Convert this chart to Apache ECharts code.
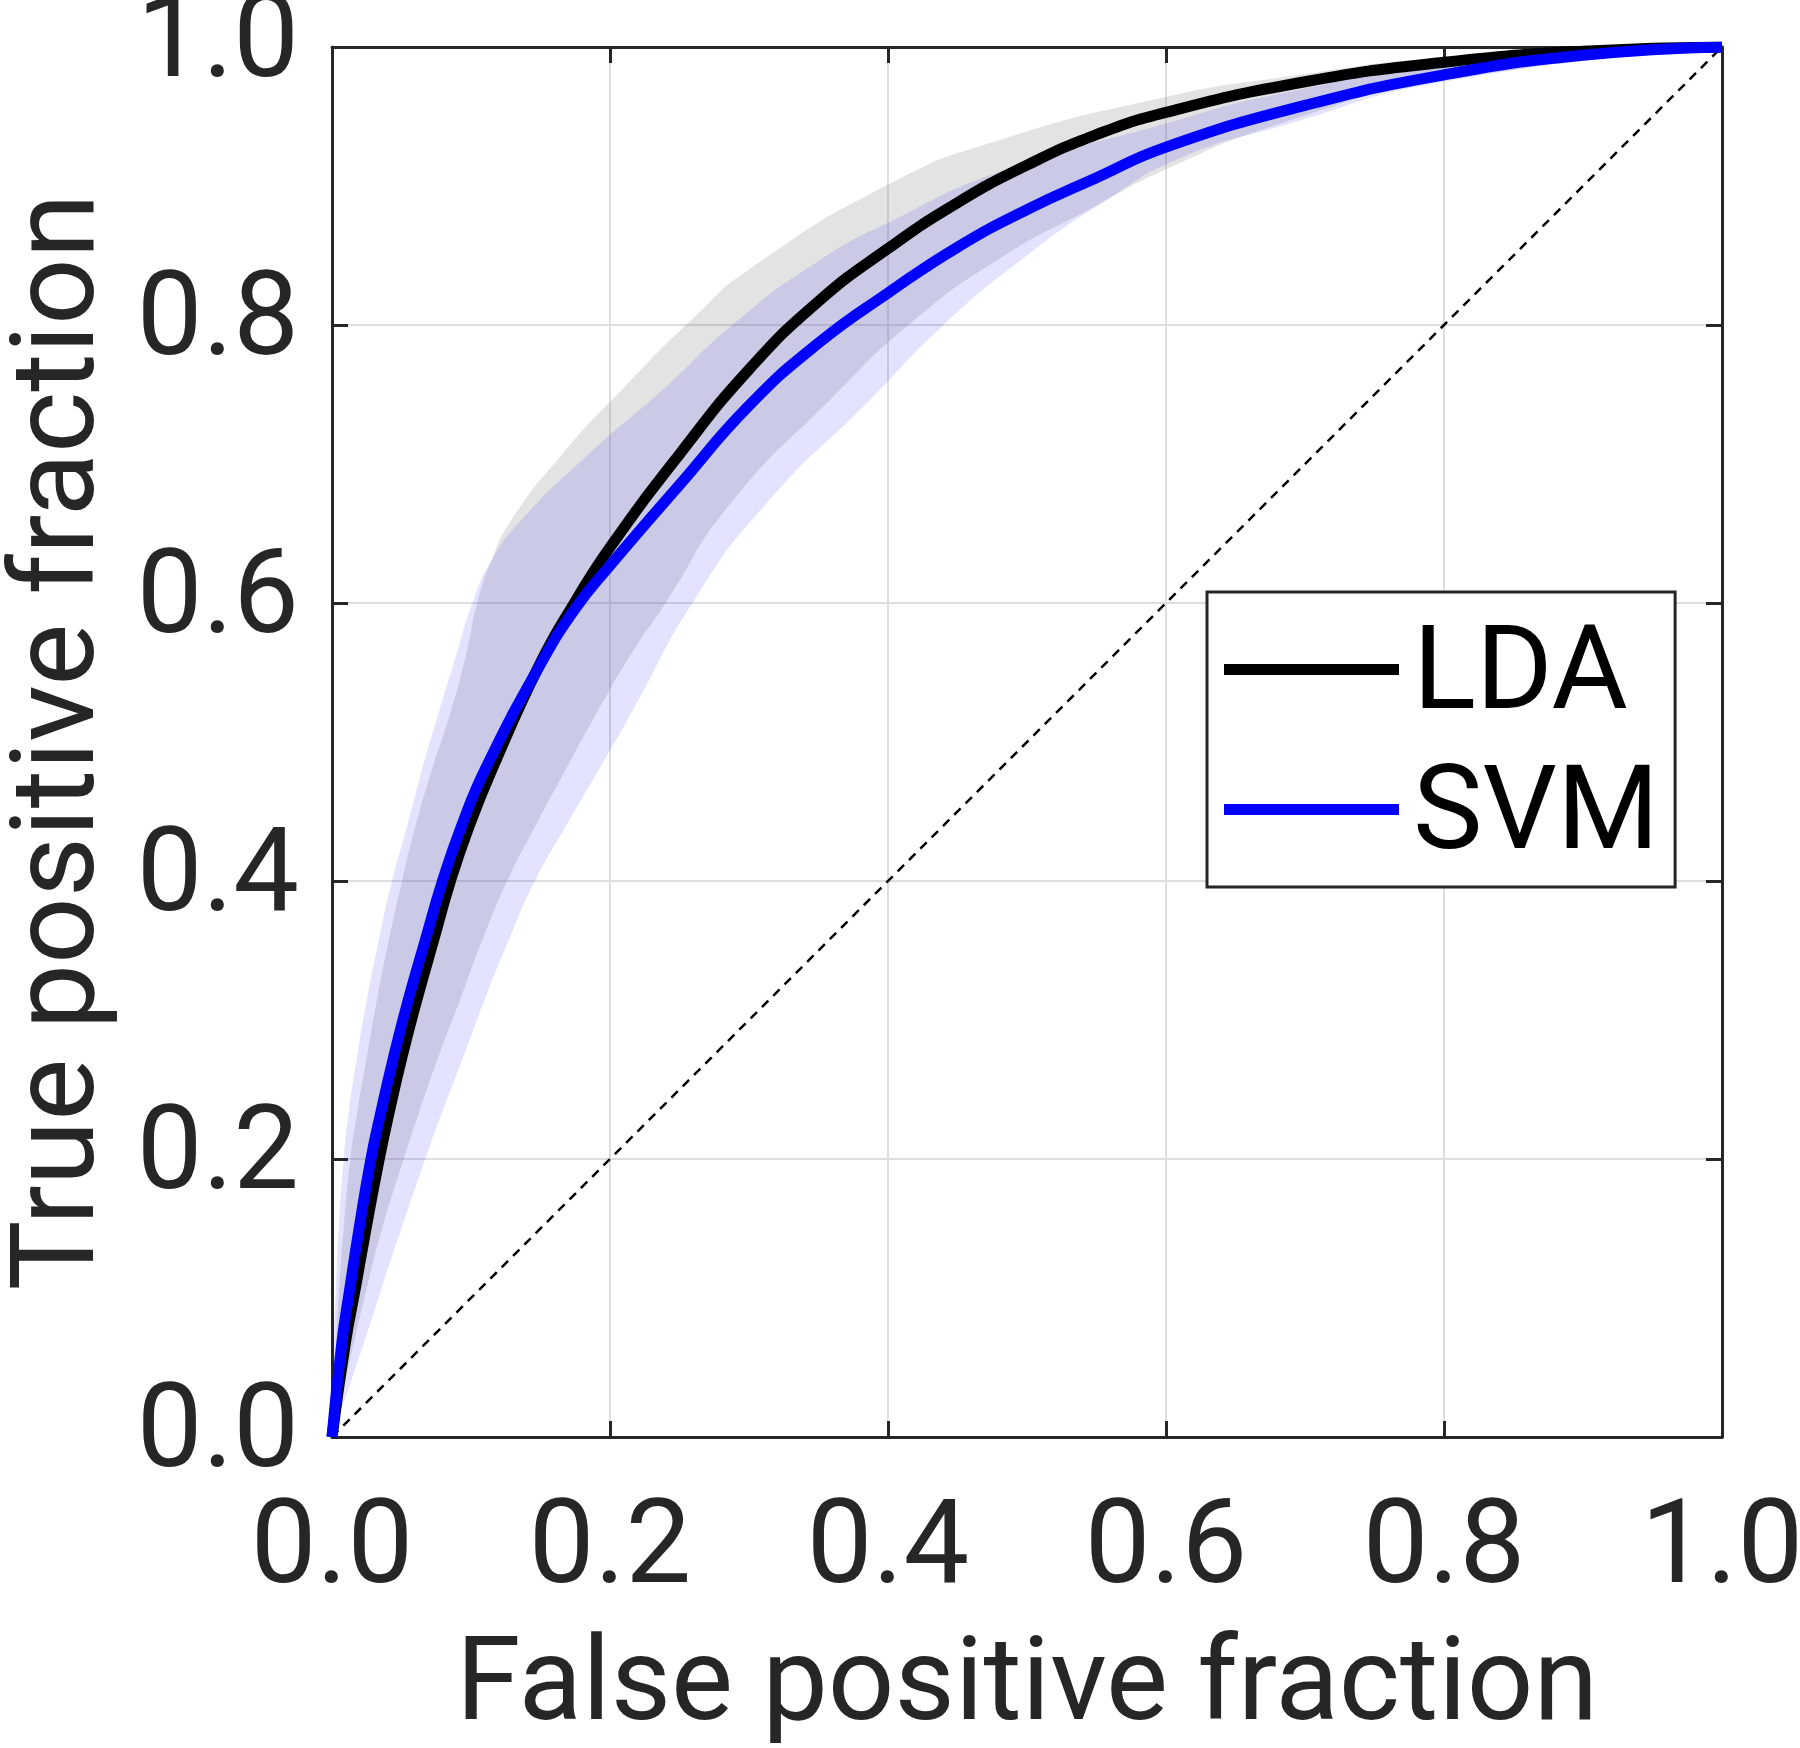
<!DOCTYPE html>
<html>
<head>
<meta charset="utf-8">
<script src="https://cdn.jsdelivr.net/npm/echarts@6/dist/echarts.min.js"></script>
<style>
html,body{margin:0;padding:0;background:#fff;}
#chart{width:1800px;height:1748px;}
</style>
</head>
<body>
<div id="chart"></div>
<script>
// ROC curves: [false positive fraction, true positive fraction]
const ldaCurve = [[0,0],[0.0095,0.067],[0.017,0.108],[0.0245,0.15],[0.034,0.2],[0.041,0.233],[0.0505,0.274],[0.0612,0.315],[0.073,0.357],[0.0852,0.4],[0.0985,0.439],[0.115,0.48],[0.15,0.557],[0.175,0.601],[0.2,0.64],[0.25,0.707],[0.3,0.768],[0.35,0.817],[0.4,0.855],[0.45,0.888],[0.5,0.915],[0.55,0.937],[0.6,0.953],[0.7,0.975],[0.8,0.989],[0.9,0.997],[1,1]];
const svmCurve = [[0,0],[0.007,0.067],[0.013,0.108],[0.0195,0.15],[0.028,0.2],[0.035,0.233],[0.0445,0.274],[0.055,0.315],[0.067,0.357],[0.0795,0.4],[0.093,0.439],[0.11,0.48],[0.15,0.556],[0.175,0.596],[0.2,0.627],[0.25,0.685],[0.3,0.742],[0.35,0.787],[0.4,0.823],[0.45,0.856],[0.5,0.883],[0.55,0.906],[0.6,0.928],[0.7,0.958],[0.8,0.98],[0.9,0.994],[1,1]];
// confidence band edges
const ldaUpper = [[0,0],[0.0029,0.067],[0.0053,0.108],[0.0084,0.15],[0.0132,0.2],[0.018,0.233],[0.0252,0.274],[0.0324,0.315],[0.0408,0.357],[0.0504,0.4],[0.06,0.439],[0.0719,0.48],[0.0855,0.522],[0.0965,0.563],[0.1045,0.6],[0.1145,0.63],[0.1293,0.66],[0.1664,0.708],[0.211,0.756],[0.26,0.805],[0.3,0.84],[0.402,0.902],[0.48,0.933],[0.6,0.964],[0.683,0.978],[0.8,0.992],[1,1]];
const ldaLower = [[0,0],[0.0156,0.067],[0.0252,0.108],[0.036,0.15],[0.0516,0.2],[0.0624,0.233],[0.0767,0.274],[0.0923,0.315],[0.108,0.357],[0.126,0.4],[0.146,0.439],[0.168,0.48],[0.191,0.522],[0.215,0.563],[0.24,0.6],[0.2863,0.671],[0.3602,0.748],[0.4148,0.8],[0.4806,0.848],[0.5465,0.884],[0.6,0.912],[0.6826,0.945],[0.8,0.976],[1,1]];
const svmUpper = [[0,0],[0.0012,0.067],[0.0029,0.108],[0.0048,0.15],[0.0084,0.2],[0.012,0.233],[0.018,0.274],[0.0252,0.315],[0.0336,0.357],[0.0432,0.4],[0.054,0.439],[0.0647,0.48],[0.077,0.522],[0.0895,0.563],[0.101,0.6],[0.1145,0.63],[0.1365,0.66],[0.1856,0.708],[0.2408,0.756],[0.288,0.8],[0.35,0.846],[0.405,0.876],[0.48,0.91],[0.6,0.945],[0.68,0.966],[0.8,0.986],[1,1]];
const svmLower = [[0,0],[0.0228,0.067],[0.036,0.108],[0.05,0.15],[0.0671,0.2],[0.079,0.233],[0.0947,0.274],[0.11,0.315],[0.127,0.357],[0.146,0.4],[0.168,0.439],[0.192,0.48],[0.216,0.522],[0.2606,0.602],[0.312,0.671],[0.389,0.748],[0.44,0.8],[0.5014,0.851],[0.556,0.889],[0.61,0.92],[0.6826,0.943],[0.8,0.975],[1,1]];
const chanceLine = [[0,0],[1,1]];
const seriesNames = ['LDA','SVM'];

const TXT = '#262626';
const FONT = 'Roboto';

// smooth path through pixel points (same scheme as ECharts line smoothing)
function smoothSeg(p, s, first) {
  let d = (first ? 'M' : 'L') + p[0][0] + ' ' + p[0][1];
  const n = p.length;
  const cps = p.map(function (cur, i) {
    if (i === 0 || i === n - 1) return [cur, cur];
    const prev = p[i - 1], next = p[i + 1];
    const vx = next[0] - prev[0], vy = next[1] - prev[1];
    const l1 = Math.hypot(cur[0] - prev[0], cur[1] - prev[1]);
    const l2 = Math.hypot(next[0] - cur[0], next[1] - cur[1]);
    const r = l2 / (l1 + l2 || 1);
    return [[cur[0] - vx * s * (1 - r), cur[1] - vy * s * (1 - r)], [cur[0] + vx * s * r, cur[1] + vy * s * r]];
  });
  for (let i = 0; i < n - 1; i++) {
    const c1 = cps[i][1], c2 = cps[i + 1][0], e = p[i + 1];
    d += 'C' + c1[0] + ' ' + c1[1] + ' ' + c2[0] + ' ' + c2[1] + ' ' + e[0] + ' ' + e[1];
  }
  return d;
}

function band(name, upper, lower, fill) {
  const pts = upper.concat(lower.slice().reverse());
  return {
    type: 'custom', name: name, data: pts, encode: {x: 0, y: 1}, clip: true, silent: true,
    renderItem: function (params, api) {
      if (params.dataIndex !== 0) return null;
      const up = upper.map(function (d) { return api.coord(d); });
      const lo = lower.slice().reverse().map(function (d) { return api.coord(d); });
      const d = smoothSeg(up, 0.55, true) + smoothSeg(lo, 0.55, false) + 'Z';
      return {type: 'path', shape: {pathData: d}, style: {fill: fill, stroke: null}};
    }
  };
}

function xAx(pos, main) {
  return {
    type: 'value', min: 0, max: 1, interval: 0.2, position: pos,
    name: main ? 'False positive fraction' : '', nameLocation: 'middle', nameGap: 194,
    nameTextStyle: {fontSize: 117, lineHeight: 117, color: TXT, fontFamily: FONT},
    axisLine: {show: true, onZero: false, lineStyle: {color: TXT, width: 3}},
    axisTick: {show: true, inside: true, length: 16, lineStyle: {color: TXT, width: 3}},
    axisLabel: {show: main, fontSize: 117, lineHeight: 117, color: TXT, fontFamily: FONT, margin: 57,
      formatter: function (v) { return v.toFixed(1); }},
    splitLine: {show: main, lineStyle: {color: '#dedede', width: 2}}
  };
}
function yAx(pos, main) {
  return {
    type: 'value', min: 0, max: 1, interval: 0.2, position: pos,
    name: main ? 'True positive fraction' : '', nameLocation: 'middle', nameGap: 210,
    nameTextStyle: {fontSize: 117, lineHeight: 117, color: TXT, fontFamily: FONT},
    axisLine: {show: true, onZero: false, lineStyle: {color: TXT, width: 3}},
    axisTick: {show: true, inside: true, length: 16, lineStyle: {color: TXT, width: 3}},
    axisLabel: {show: main, fontSize: 117, lineHeight: 117, color: TXT, fontFamily: FONT, margin: 33,
      formatter: function (v) { return v.toFixed(1); }},
    splitLine: {show: main, lineStyle: {color: '#dedede', width: 2}}
  };
}

const chart = echarts.init(document.getElementById('chart'), null, {renderer: 'canvas'});
chart.setOption({
  animation: false,
  backgroundColor: '#ffffff',
  grid: {left: 332, top: 47, width: 1390, height: 1390, containLabel: false, outerBoundsMode: 'none'},
  xAxis: [xAx('bottom', true), xAx('top', false)],
  yAxis: [yAx('left', true), yAx('right', false)],
  legend: {
    data: seriesNames, orient: 'vertical', left: 1207, top: 592,
    padding: [10, 16, 10, 17], itemGap: 5, itemWidth: 175, itemHeight: 11, icon: 'rect',
    borderColor: TXT, borderWidth: 3, backgroundColor: '#ffffff', selectedMode: false,
    formatter: function (name) { return '{t|' + name + '}'; },
    textStyle: {
      fontSize: 117, lineHeight: 117, color: '#000', fontFamily: FONT,
      rich: {t: {fontSize: 117, lineHeight: 117, color: '#000', fontFamily: FONT, padding: [18, 0, 0, 9]}}
    }
  },
  series: [
    band('LDA band', ldaUpper, ldaLower, 'rgba(128,128,128,0.22)'),
    {type: 'line', name: 'chance', data: chanceLine, showSymbol: false, silent: true,
      lineStyle: {color: '#000', width: 2.5, type: [9, 7]}},
    {type: 'line', name: seriesNames[0], data: ldaCurve, showSymbol: false, smooth: 0.5,
      lineStyle: {color: '#000000', width: 11}, itemStyle: {color: '#000000'}},
    band('SVM band', svmUpper, svmLower, 'rgba(0,0,255,0.11)'),
    {type: 'line', name: seriesNames[1], data: svmCurve, showSymbol: false, smooth: 0.5,
      lineStyle: {color: '#0000ff', width: 11}, itemStyle: {color: '#0000ff'}}
  ]
});
</script>
</body>
</html>
